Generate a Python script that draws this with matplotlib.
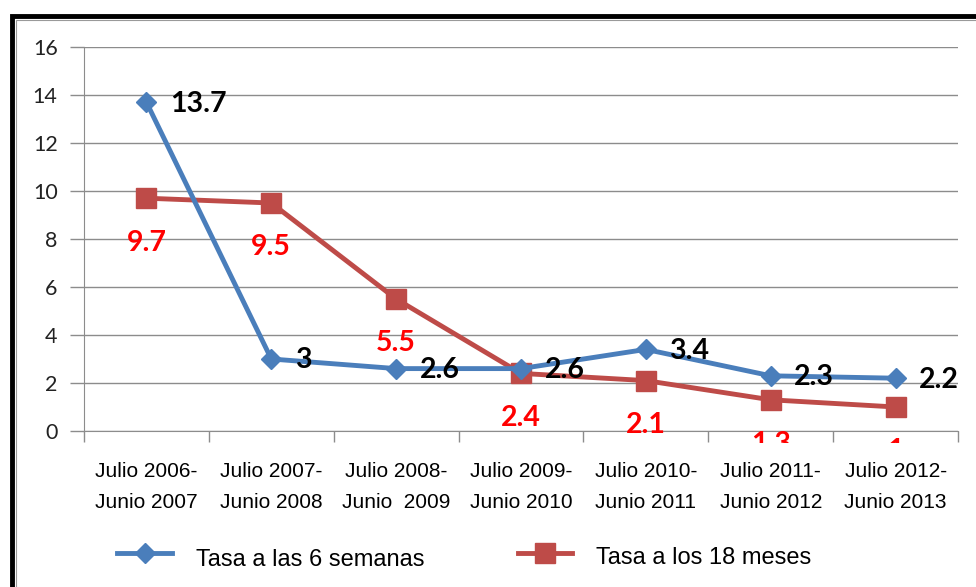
import matplotlib
matplotlib.use("Agg")
import matplotlib.pyplot as plt
from matplotlib.patches import Rectangle
from matplotlib.lines import Line2D
from matplotlib.transforms import Bbox, TransformedBbox

categories = ["Julio 2006-\nJunio 2007", "Julio 2007-\nJunio 2008", "Julio 2008-\nJunio  2009",
              "Julio 2009-\nJunio 2010", "Julio 2010-\nJunio 2011", "Julio 2011-\nJunio 2012",
              "Julio 2012-\nJunio 2013"]
tasa_6_semanas = [13.7, 3, 2.6, 2.6, 3.4, 2.3, 2.2]
tasa_18_meses = [9.7, 9.5, 5.5, 2.4, 2.1, 1.3, 1]
series_names = ["Tasa a las 6 semanas", "Tasa a los 18 meses"]
y_ticks = [0, 2, 4, 6, 8, 10, 12, 14, 16]

W, H = 976, 587
fig = plt.figure(figsize=(W / 100, H / 100), dpi=100)
fig.patch.set_facecolor("white")

def fx(px):
    return px / W

def fy(py):
    return 1 - py / H

# outer frame
fig.add_artist(Rectangle((fx(12), fy(600)), fx(1000), fy(16) - fy(600), transform=fig.transFigure,
                         fill=False, edgecolor="black", linewidth=3.5))
fig.add_artist(Rectangle((fx(15.5), fy(600)), fx(1000), fy(19.5) - fy(600), transform=fig.transFigure,
                         fill=False, edgecolor="#9a9a9a", linewidth=0.8))

ax = fig.add_axes([fx(84), fy(431), fx(958) - fx(84), fy(47) - fy(431)])
n = len(categories)
x = list(range(n))
ax.set_xlim(-0.5, n - 0.5)
ax.set_ylim(0, 16)

grid_c = "#8c8c8c"
ax.set_yticks(y_ticks)
ax.set_yticklabels([str(v) for v in y_ticks], fontsize=15.5, family="Lato", color="#222222")
ax.yaxis.grid(True, color=grid_c, linewidth=1.0)
ax.set_axisbelow(True)
ax.tick_params(axis="y", length=10, color=grid_c, width=1.0, pad=9)

ax.set_xticks([i - 0.5 for i in range(n + 1)])
ax.set_xticklabels([])
ax.set_xticks(x, minor=True)
ax.set_xticklabels(categories, minor=True, fontsize=15, family="Liberation Sans", linespacing=1.8)
ax.tick_params(axis="x", which="major", length=8, color=grid_c, width=1.0)
ax.tick_params(axis="x", which="minor", length=0, pad=22)

for s in ["top", "right"]:
    ax.spines[s].set_visible(False)
ax.spines["left"].set_color(grid_c)
ax.spines["bottom"].set_color(grid_c)

blue = "#4A7EBB"
red = "#BE4B48"
ax.plot(x, tasa_6_semanas, color=blue, linewidth=3.5, marker="D", markersize=10, zorder=4,
        clip_on=False)
ax.plot(x, tasa_18_meses, color=red, linewidth=3.5, marker="s", markersize=14, zorder=3,
        clip_on=False)

clip = TransformedBbox(Bbox([[-0.5, -0.5], [n - 0.5, 16]]), ax.transData)
for xi, v in zip(x, tasa_6_semanas):
    ax.annotate(f"{v:g}", (xi, v), xytext=(17, -1), textcoords="offset points",
                ha="left", va="center", fontsize=20.5, fontweight="bold", family="Lato",
                color="black", annotation_clip=False, zorder=6)
for xi, v in zip(x, tasa_18_meses):
    t = ax.annotate(f"{v:g}", (xi, v), xytext=(0, -32), textcoords="offset points",
                    ha="center", va="center", fontsize=20.5, fontweight="bold", family="Lato",
                    color="#FF0000", annotation_clip=False, zorder=6)
    t.set_clip_box(clip)
    t.set_clip_on(True)

# legend
fig.add_artist(Line2D([fx(117), fx(172)], [fy(553), fy(553)], transform=fig.transFigure,
                      color=blue, linewidth=3.5))
fig.add_artist(Line2D([fx(144.5)], [fy(553)], transform=fig.transFigure, color=blue,
                      marker="D", markersize=10, linestyle="none"))
fig.add_artist(Line2D([fx(518), fx(572)], [fy(553), fy(553)], transform=fig.transFigure,
                      color=red, linewidth=3.5))
fig.add_artist(Line2D([fx(545)], [fy(553)], transform=fig.transFigure, color=red,
                      marker="s", markersize=14, linestyle="none"))
fig.text(fx(196), fy(560), series_names[0], fontsize=17, family="Liberation Sans", va="center")
fig.text(fx(596), fy(558), series_names[1], fontsize=17, family="Liberation Sans", va="center")

fig.savefig("out.png", dpi=100, facecolor="white")
